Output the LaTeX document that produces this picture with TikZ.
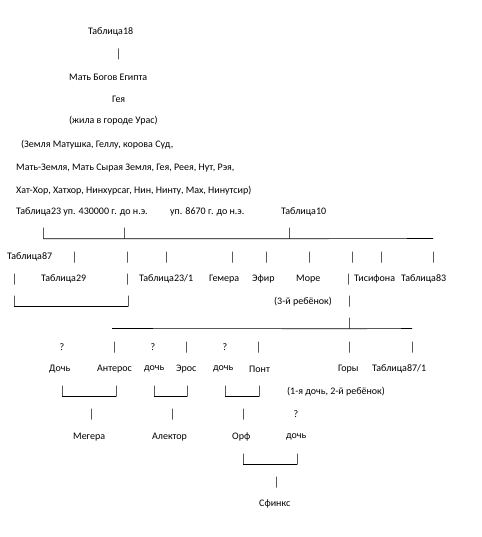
\documentclass[tikz,border=0pt]{standalone}
\usepackage{fontspec}
\setmainfont{Carlito}
\usetikzlibrary{positioning}

\begin{document}
\begin{tikzpicture}[
    x=1pt, y=-1pt,
    lbl/.style={inner sep=0, anchor=west, font=\fontsize{10}{12}\selectfont},
    qmark/.style={inner sep=0, font=\fontsize{10}{12}\selectfont},
    pipe/.style={draw, inner sep=0, minimum width=0pt, minimum height=11pt, line width=0.55pt},
    rule/.style={line width=0.6pt}
]
\useasboundingbox (0,0) rectangle (481,537);

% top of the tree
\node[lbl] (t18) at (88,32) {Таблица18};
\node[pipe] (p0) at (118,54) {};
\node[lbl] (mbe) at (69,77) {Мать Богов Египта};
\node[lbl] (geya) at (112,99) {Гея};
\node[lbl] (uras) at (69,121) {(жила в городе Урас)};
\node[lbl] (names1) at (21,145) {(Земля Матушка, Геллу, корова Суд,};
\node[lbl] (names2) at (16,168) {Мать-Земля, Мать Сырая Земля, Гея, Реея, Нут, Рэя,};
\node[lbl] (names3) at (16,191) {Хат-Хор, Хатхор, Нинхурсаг, Нин, Нинту, Мах, Нинутсир)};
\node[lbl] (t23) at (16,212) {Таблица23 уп. 430000 г. до н.э.};
\node[lbl] (up8670) at (170,212) {уп. 8670 г. до н.э.};
\node[lbl] (t10) at (281,212) {Таблица10};

% first bar
\node[pipe] (a1) at (43,233) {};
\node[pipe] (a2) at (124,233) {};
\node[pipe] (a3) at (289,233) {};
\coordinate (a4) at (433,238.5);
\draw[rule] (a1.south) -- (a2.south) -- (a3.south) -- (a4);

% children
\node[lbl] (t87) at (7,257) {Таблица87};
\foreach \x [count=\i] in {74,127,166,232,266,309,352,381,433}
  \node[pipe] (b\i) at (\x,257) {};
\node[pipe] (c1) at (14,279) {};
\node[lbl] (t29) at (41,279) {Таблица29};
\node[pipe] (c2) at (127,279) {};
\node[lbl] (t231) at (139,279) {Таблица23/1};
\node[lbl] (gemera) at (209,279) {Гемера};
\node[lbl] (efir) at (252,279) {Эфир};
\node[lbl] (more) at (296,279) {Море};
\node[pipe] (c3) at (348,279) {};
\node[lbl] (tisifona) at (354,279) {Тисифона};
\node[lbl] (t83) at (401,279) {Таблица83};

\node[pipe] (d1) at (14,301) {};
\node[pipe] (d2) at (128,301) {};
\draw[rule] (d1.south) -- (d2.south);
\node[lbl] (third) at (274,302) {(3-й ребёнок)};
\node[pipe] (d3) at (349,301) {};

% second bar
\node[pipe] (e1) at (349,323) {};
\coordinate (e0) at (112,328.5);
\coordinate (e2) at (412,328.5);
\draw[rule] (e0) -- (e1.south) -- (e2);

\node[qmark] (q1) at (62,347) {?};
\node[pipe] (f1) at (114,347) {};
\node[qmark] (q2) at (153,347) {?};
\node[pipe] (f2) at (186,347) {};
\node[qmark] (q3) at (225,347) {?};
\node[pipe] (f3) at (258,347) {};
\node[pipe] (f4) at (349,347) {};
\node[pipe] (f5) at (412,347) {};

\node[lbl] (doch1) at (49,369) {Дочь};
\node[lbl] (anteros) at (97,369) {Антерос};
\node[lbl] (doch2) at (144,369) {дочь};
\node[lbl] (eros) at (176,369) {Эрос};
\node[lbl] (doch3) at (213,369) {дочь};
\node[lbl] (pont) at (249,369) {Понт};
\node[lbl] (gory) at (338,369) {Горы};
\node[lbl] (t871) at (372,369) {Таблица87/1};

% couples
\node[pipe] (g1) at (62,391) {};
\node[pipe] (g2) at (116,391) {};
\node[pipe] (g3) at (154,391) {};
\node[pipe] (g4) at (187,391) {};
\node[pipe] (g5) at (225,391) {};
\node[pipe] (g6) at (259,391) {};
\draw[rule] (g1.south) -- (g2.south);
\draw[rule] (g3.south) -- (g4.south);
\draw[rule] (g5.south) -- (g6.south);
\node[lbl] (first) at (287,392) {(1-я дочь, 2-й ребёнок)};

\node[pipe] (h1) at (91,414) {};
\node[pipe] (h2) at (172,414) {};
\node[pipe] (h3) at (243,414) {};
\node[qmark] (q4) at (296,414) {?};

\node[lbl] (megera) at (73,437) {Мегера};
\node[lbl] (alektor) at (152,437) {Алектор};
\node[lbl] (orf) at (232,437) {Орф};
\node[lbl] (doch4) at (286,437) {дочь};

% last couple
\node[pipe] (k1) at (243,459) {};
\node[pipe] (k2) at (297,459) {};
\draw[rule] (k1.south) -- (k2.south);
\node[pipe] (k3) at (276,482) {};
\node[lbl] (sfinks) at (259,504) {Сфинкс};
\end{tikzpicture}
\end{document}
